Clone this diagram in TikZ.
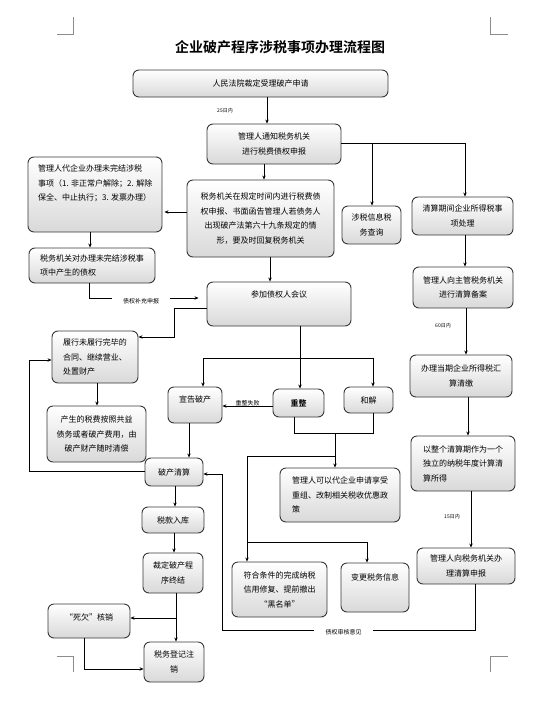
\documentclass[tikz,border=0pt]{standalone}
\usepackage{fontspec}
\setmainfont{Noto Sans CJK SC}
\newfontfamily\titlefont{Noto Sans CJK SC Bold}
\usetikzlibrary{arrows.meta}
\begin{document}
\begin{tikzpicture}[x=1pt,y=-1pt,
  box/.style={draw=black!78, line width=0.9pt, rounded corners=6pt, top color=white, bottom color=black!15, inner sep=0pt, font=\fontsize{8}{14.5}\selectfont, align=center},
  boxl/.style={box, align=left},
  txt/.style={inner sep=0pt, font=\fontsize{8}{14.5}\selectfont},
  lbl/.style={inner sep=1pt, font=\fontsize{6}{7}\selectfont},
  tiny/.style={inner sep=1pt, font=\fontsize{5}{6}\selectfont},
  arr/.style={-{Stealth[length=4pt,width=3.4pt]}, line width=0.7pt},
  ln/.style={line width=0.7pt},
  crop/.style={draw=black!45, line width=0.6pt}]
\useasboundingbox (0,0) rectangle (551,718);
% crop marks
\draw[crop] (57,34) -- (73,34) -- (73,17);
\draw[crop] (508,34) -- (490,34) -- (490,17);
\draw[crop] (57,656) -- (73,656) -- (73,672);
\draw[crop] (508,656) -- (490,656) -- (490,672);
% title
\node (title) at (280,47) {\titlefont\fontsize{14}{16}\selectfont 企业破产程序涉税事项办理流程图};
% boxes
\node[box, minimum width=255pt, minimum height=27pt] (b1) at (260.5,83.5) {人民法院裁定受理破产申请};
\node[box, minimum width=134pt, minimum height=40pt] (b2) at (274,144) {管理人通知税务机关\\进行税费债权申报};
\node[box, minimum width=134pt, minimum height=75pt] (b3) at (95,194.5) {};
\node[txt, anchor=north west, align=left] (b3t) at (38,165) {管理人代企业办理未完结涉税\\事项（1. 非正常户解除；2. 解除\\保全、中止执行；3. 发票办理）};
\node[box, minimum width=147pt, minimum height=77pt] (b4) at (260.5,218.5) {税务机关在规定时间内进行税费债\\权申报、书面函告管理人若债务人\\出现破产法第六十九条规定的情\\形，要及时回复税务机关};
\node[box, minimum width=59pt, minimum height=38pt] (b5) at (371.5,225) {涉税信息税\\务查询};
\node[box, minimum width=101pt, minimum height=38pt] (b6) at (462.5,216) {清算期间企业所得税事\\项处理};
\node[boxl, minimum width=126pt, minimum height=35pt] (b7) at (92,265.5) {税务机关对办理未完结涉税事\\项中产生的债权};
\node[box, minimum width=100pt, minimum height=41pt] (b8) at (463,287.5) {管理人向主管税务机关\\进行清算备案};
\node[box, minimum width=144pt, minimum height=44pt] (b9) at (279,304) {};
\node[txt, anchor=north] (b9t) at (279,291) {参加债权人会议};
\node[boxl, minimum width=86pt, minimum height=52pt] (b10) at (95,357) {履行未履行完毕的\\合同、继续营业、\\处置财产};
\node[box, minimum width=99pt, minimum height=56pt] (b11) at (96.5,434) {产生的税费按照共益\\债务或者破产费用，由\\破产财产随时清偿};
\node[box, minimum width=54pt, minimum height=36pt] (bxg) at (195,405) {};
\node[txt, anchor=north] (bxgt) at (195,396) {宣告破产};
\node[box, minimum width=51pt, minimum height=28pt] (bcz) at (298.5,403) {\titlefont 重整};
\node[box, minimum width=49pt, minimum height=26pt] (bhj) at (368.5,400) {和解};
\node[box, minimum width=58pt, minimum height=28pt] (bps) at (174,472) {破产清算};
\node[boxl, minimum width=120pt, minimum height=54pt] (bgl) at (340,495) {管理人可以代企业申请享受\\重组、改制相关税收优惠政\\策};
\node[box, minimum width=62pt, minimum height=26pt] (bsk) at (173,520) {税款入库};
\node[box, minimum width=60pt, minimum height=40pt] (bcd) at (173,573) {裁定破产程\\序终结};
\node[box, minimum width=95pt, minimum height=55pt] (bfh) at (279.5,589.5) {符合条件的完成纳税\\信用修复、提前撤出\\“黑名单”};
\node[box, minimum width=68pt, minimum height=49pt] (bbg) at (375,587.5) {};
\node[txt, anchor=north] (bbgt) at (375,573) {变更税务信息};
\node[box, minimum width=82pt, minimum height=34pt] (bhx) at (89,621) {};
\node[txt, anchor=north] (bhxt) at (89,614) {“死欠”核销};
\node[box, minimum width=60pt, minimum height=40pt] (bdj) at (174,662) {税务登记注\\销};
\node[box, minimum width=102pt, minimum height=42pt] (bbl) at (461,376) {办理当期企业所得税汇\\算清缴};
\node[boxl, minimum width=104pt, minimum height=55pt] (byz) at (463,463.5) {以整个清算期作为一个\\独立的纳税年度计算清\\算所得};
\node[box, minimum width=98pt, minimum height=36pt] (bsb) at (466,566) {管理人向税务机关办\\理清算申报};
% small labels
\node[tiny] (l25) at (225,111) {25日内};
\node[tiny] (l60) at (443,326) {60日内};
\node[tiny] (l15) at (452,517) {15日内};
\node[lbl, inner xsep=11pt] (lbc) at (141,301) {债权补充申报};
\node[lbl, inner xsep=11pt] (lsh) at (343.5,632) {债权审核意见};
% connectors
\draw[arr] (267,0 |- b1.south) -- (267,0 |- b2.north);
\draw[arr] (264,0 |- b2.south) -- (264,0 |- b4.north);
\draw[arr] (b2.east |- 0,143) -| (465,0 |- b6.north);
\draw[arr] (372,143) -- (372,0 |- b5.north);
\draw[arr, shorten >=2pt] (b4.west |- 0,212) -- (b3.east |- 0,212);
\draw[arr] (90,0 |- b3.south) -- (90,0 |- b7.north);
\draw[arr] (270,0 |- b4.south) -- (270,0 |- b9.north);
\draw[arr] (465,0 |- b6.south) -- (465,0 |- b8.north);
\draw[arr] (466,0 |- b8.south) -- (466,0 |- bbl.north);
\draw[arr] (468,0 |- bbl.south) -- (468,0 |- byz.north);
\draw[arr] (471,0 |- byz.south) -- (471,0 |- bsb.north);
\draw[ln] (89,0 |- b7.south) |- (lbc.west |- 0,298);
\draw[arr, shorten >=8pt] (lbc.east |- 0,298) -- (b9.west |- 0,298);
\draw[arr] (b9.west |- 0,308) -- (174,308) -- (174,337) -- (b10.east |- 0,337);
\draw[arr] (300,0 |- b9.south) -- (300,0 |- bcz.north);
\draw[ln] (203,358) -- (373,358);
\draw[arr] (203,358) -- (203,0 |- bxg.north);
\draw[arr] (373,358) -- (373,0 |- bhj.north);
\draw[arr] (bcz.west |- 0,406) -- (bxg.east |- 0,406) node[lbl, midway, above=-1.5pt] (lcz) {重整失败};
\draw[ln] (294,0 |- bcz.south) |- (373,433) -- (373,0 |- bhj.south);
\draw[arr] (335,433) -- (335,0 |- bgl.north);
\draw[ln] (335,456) -- (247,456);
\draw[arr] (247,456) -- (247,0 |- bfh.north);
\draw[arr] (247,542) -| (367,0 |- bbg.north);
\draw[arr] (97,0 |- b10.south) -- (97,0 |- b11.north);
\draw[arr] (189,0 |- bxg.south) -- (189,0 |- bps.north);
\draw[arr] (bps.west |- 0,471) -| (29,360) -- (b10.west |- 0,360);
\draw[arr] (175,0 |- bps.south) -- (175,0 |- bsk.north);
\draw[arr] (174,0 |- bsk.south) -- (174,0 |- bcd.north);
\draw[arr] (176,0 |- bcd.south) -- (176,0 |- bdj.north);
\draw[arr] (176,618) -- (bhx.east |- 0,618);
\draw[arr] (84,0 |- bhx.south) |- (bdj.west |- 0,669);
\draw[ln] (475,0 |- bsb.south) |- (lsh.east |- 0,630);
\draw[arr] (lsh.west |- 0,630) -| (222,474) -- (bps.east |- 0,474);
\end{tikzpicture}
\end{document}
